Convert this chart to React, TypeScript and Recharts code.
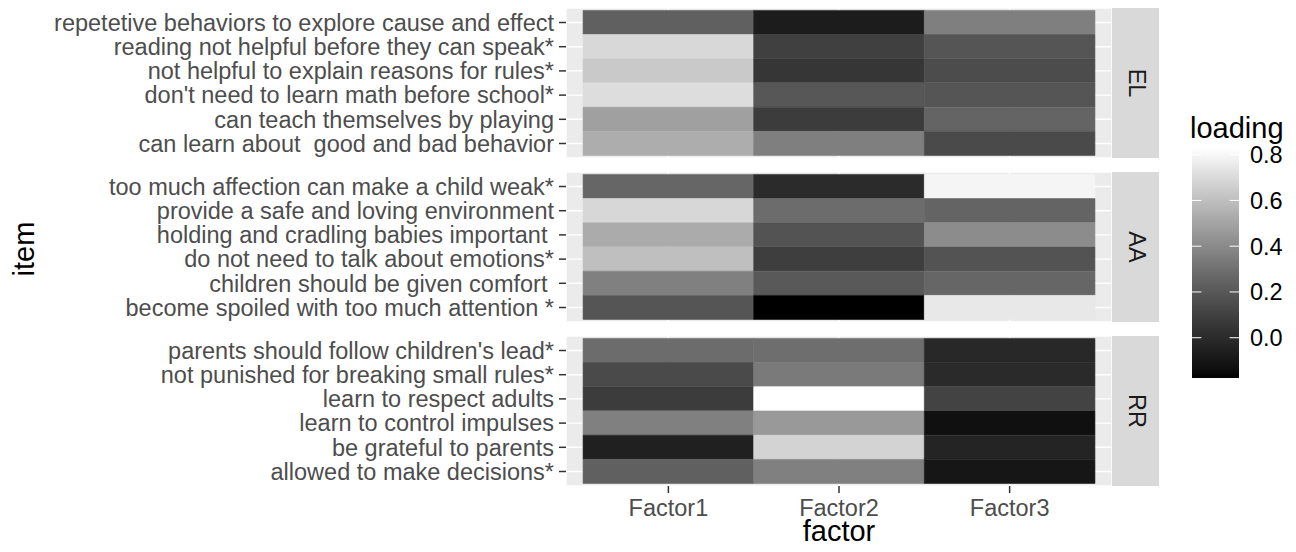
import React from 'react';
import { BarChart, Bar, Cell, XAxis, YAxis, CartesianGrid, Label } from 'recharts';

const factors = ['Factor1', 'Factor2', 'Factor3'];

// items listed top to bottom, loadings per item as [Factor1, Factor2, Factor3]
const elItems = [
  'repetetive behaviors to explore cause and effect',
  'reading not helpful before they can speak*',
  'not helpful to explain reasons for rules*',
  "don't need to learn math before school*",
  'can teach themselves by playing',
  'can learn about  good and bad behavior',
];
const elLoadings = [
  [0.233, -0.073, 0.359],
  [0.691, 0.096, 0.188],
  [0.638, 0.051, 0.149],
  [0.709, 0.196, 0.188],
  [0.486, 0.078, 0.25],
  [0.535, 0.359, 0.141],
];

const aaItems = [
  'too much affection can make a child weak*',
  'provide a safe and loving environment',
  'holding and cradling babies important ',
  'do not need to talk about emotions*',
  'children should be given comfort ',
  'become spoiled with too much attention *',
];
const aaLoadings = [
  [0.258, 0.0, 0.794],
  [0.688, 0.282, 0.25],
  [0.528, 0.179, 0.409],
  [0.602, 0.087, 0.179],
  [0.363, 0.204, 0.258],
  [0.188, -0.176, 0.749],
];

const rrItems = [
  "parents should follow children's lead*",
  'not punished for breaking small rules*',
  'learn to respect adults',
  'learn to control impulses',
  'be grateful to parents',
  'allowed to make decisions*',
];
const rrLoadings = [
  [0.282, 0.29, -0.014],
  [0.141, 0.339, -0.004],
  [0.078, 0.829, 0.109],
  [0.363, 0.459, -0.129],
  [-0.053, 0.674, -0.033],
  [0.233, 0.363, -0.103],
];

const legendTicks = [0, 0.2, 0.4, 0.6, 0.8];

const FONT = '"Liberation Sans", Arial, Helvetica, sans-serif';
const PLOT_H = 150;
const TICK_FS = 23.5;
const TITLE_FS = 29;

const allValues = [...elLoadings, ...aaLoadings, ...rrLoadings].flat();
const MIN = Math.min(...allValues);
const MAX = Math.max(...allValues);

// black -> white, interpolated on Lab lightness like ggplot
function grayFor(v: number) {
  const t = (v - MIN) / (MAX - MIN);
  const L = 100 * t;
  const fy = (L + 16) / 116;
  const Y = fy * fy * fy > 0.008856 ? fy * fy * fy : L / 903.3;
  const s = Y <= 0.0031308 ? 12.92 * Y : 1.055 * Math.pow(Y, 1 / 2.4) - 0.055;
  const g = Math.max(0, Math.min(255, Math.round(s * 255)));
  return `rgb(${g},${g},${g})`;
}

const ItemTick = (props: any) => {
  const { x, y, payload } = props;
  return (
    <text
      x={x}
      y={y}
      dy="0.355em"
      textAnchor="end"
      fill="#4D4D4D"
      fontSize={TICK_FS}
      fontFamily={FONT}
      style={{ whiteSpace: 'pre' }}
    >
      {payload.value}
    </text>
  );
};

function Facet({
  label,
  items,
  loadings,
  top,
  showX,
}: {
  label: string;
  items: string[];
  loadings: number[][];
  top: number;
  showX?: boolean;
}) {
  const rows = items.map((item, i) => ({ item, off: 0.5, f1: 1, f2: 1, f3: 1, l: loadings[i] }));
  const xAxisH = showX ? 55 : 0;
  const bottomPad = showX ? 9 : 0;
  return (
    <div style={{ position: 'absolute', left: 0, top }}>
      <BarChart
        width={1112}
        height={PLOT_H + xAxisH + bottomPad}
        data={rows}
        layout="vertical"
        margin={{ top: 0, right: 0, bottom: bottomPad, left: 0 }}
        barCategoryGap={0}
        barGap={0}
      >
        <CartesianGrid fill="#EBEBEB" stroke="#FFFFFF" strokeWidth={1.4} />
        <XAxis
          type="number"
          domain={[0.4, 3.6]}
          allowDataOverflow
          ticks={[1, 2, 3]}
          interval={0}
          tickFormatter={(v: number) => factors[v - 1]}
          hide={!showX}
          height={xAxisH}
          axisLine={false}
          tickSize={7}
          tickMargin={6}
          tickLine={{ stroke: '#333333', strokeWidth: 1.5 }}
          tick={{ fill: '#4D4D4D', fontSize: TICK_FS, fontFamily: FONT }}
        >
          {showX && (
            <Label value="factor" position="insideBottom" offset={0} fill="#000000" fontSize={TITLE_FS} fontFamily={FONT} />
          )}
        </XAxis>
        <YAxis
          type="category"
          dataKey="item"
          width={566}
          padding={{ top: 2.4, bottom: 2.4 }}
          interval={0}
          axisLine={false}
          tickSize={7}
          tickMargin={5}
          tickLine={{ stroke: '#333333', strokeWidth: 1.5 }}
          tick={<ItemTick />}
        />
        <Bar dataKey="off" stackId="s" fill="none" isAnimationActive={false} />
        {['f1', 'f2', 'f3'].map((k, j) => (
          <Bar key={k} dataKey={k} stackId="s" isAnimationActive={false}>
            {rows.map((r, i) => (
              <Cell key={i} fill={grayFor(r.l[j])} stroke={grayFor(r.l[j])} strokeWidth={0.6} />
            ))}
          </Bar>
        ))}
      </BarChart>
      <div
        style={{
          position: 'absolute',
          left: 1112,
          top: 0,
          width: 47,
          height: PLOT_H,
          background: '#D9D9D9',
        }}
      >
        <div
          style={{
            position: 'absolute',
            left: '50%',
            top: '50%',
            transform: 'translate(-50%, -50%) rotate(90deg)',
            fontSize: TICK_FS,
            lineHeight: 1,
            color: '#1A1A1A',
            fontFamily: FONT,
            whiteSpace: 'nowrap',
          }}
        >
          {label}
        </div>
      </div>
    </div>
  );
}

function ColorBar() {
  const barLeft = 12;
  const barTop = 48;
  const barW = 47;
  const barH = 230;
  const stops = Array.from({ length: 21 }, (_, i) => i / 20);
  const yOf = (v: number) => barTop + ((MAX - v) / (MAX - MIN)) * barH;
  return (
    <svg width={116} height={300} style={{ position: 'absolute', left: 1180, top: 100 }}>
      <defs>
        <linearGradient id="loadGrad" x1="0" y1="0" x2="0" y2="1">
          {stops.map((s) => (
            <stop key={s} offset={s} stopColor={grayFor(MAX - (MAX - MIN) * s)} />
          ))}
        </linearGradient>
      </defs>
      <text x={10} y={38} fontSize={TITLE_FS} fontFamily={FONT} fill="#000000">
        loading
      </text>
      <rect x={barLeft} y={barTop} width={barW} height={barH} fill="url(#loadGrad)" />
      {legendTicks.map((v) => (
        <g key={v}>
          <line x1={barLeft} x2={barLeft + 9.4} y1={yOf(v)} y2={yOf(v)} stroke="#FFFFFF" strokeWidth={1} />
          <line x1={barLeft + barW - 9.4} x2={barLeft + barW} y1={yOf(v)} y2={yOf(v)} stroke="#FFFFFF" strokeWidth={1} />
          <text
            x={barLeft + barW + 11}
            y={yOf(v)}
            dy="0.355em"
            fontSize={TICK_FS}
            fontFamily={FONT}
            fill="#000000"
          >
            {v.toFixed(1)}
          </text>
        </g>
      ))}
    </svg>
  );
}

export default function App() {
  return (
    <div
      style={{
        position: 'absolute',
        left: 0,
        top: 0,
        width: 1296,
        height: 552,
        background: '#FFFFFF',
        fontFamily: FONT,
        overflow: 'hidden',
      }}
    >
      <div
        style={{
          position: 'absolute',
          left: 24,
          top: 249,
          transform: 'translate(-50%, -50%) rotate(-90deg)',
          fontSize: TITLE_FS,
          lineHeight: 1,
          color: '#000000',
          whiteSpace: 'nowrap',
        }}
      >
        item
      </div>
      <Facet label="EL" items={elItems} loadings={elLoadings} top={8} />
      <Facet label="AA" items={aaItems} loadings={aaLoadings} top={172} />
      <Facet label="RR" items={rrItems} loadings={rrLoadings} top={336} showX />
      <ColorBar />
    </div>
  );
}
